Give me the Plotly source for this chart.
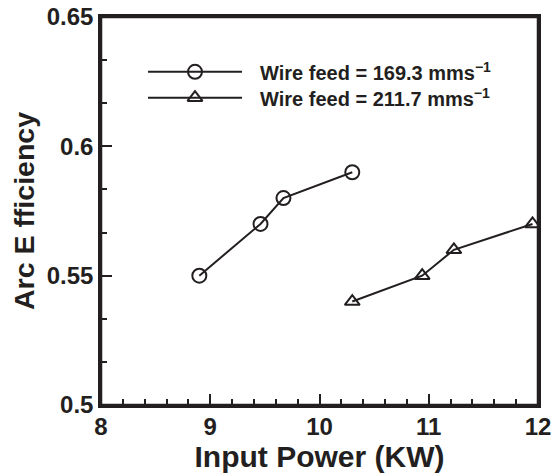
import plotly.graph_objects as go

# Data
feed_169_power = [8.9, 9.46, 9.67, 10.3]
feed_169_eff = [0.55, 0.57, 0.58, 0.59]
feed_212_power = [10.3, 10.94, 11.23, 11.95]
feed_212_eff = [0.54, 0.55, 0.56, 0.57]
series_names = ["Wire feed = 169.3 mms<sup>\u22121</sup>", "Wire feed = 211.7 mms<sup>\u22121</sup>"]
x_ticks = [8, 9, 10, 11, 12]
y_ticks = [0.5, 0.55, 0.6, 0.65]
y_tick_text = ["0.5", "0.55", "0.6", "0.65"]

INK = "#231f20"
FONT = "Liberation Sans, Arial, sans-serif"

fig = go.Figure()
fig.add_trace(go.Scatter(
    x=feed_169_power, y=feed_169_eff, mode="lines+markers",
    line=dict(color=INK, width=2),
    marker=dict(symbol="circle-open", size=14, color=INK, line=dict(width=2)),
    showlegend=False))
fig.add_trace(go.Scatter(
    x=feed_212_power, y=feed_212_eff, mode="lines+markers",
    line=dict(color=INK, width=2),
    marker=dict(symbol="triangle-up-open", size=13, color=INK, line=dict(width=2)),
    showlegend=False))

# Custom legend drawn on an overlay axis (0..1 in plot area)
leg_x0, leg_x1, leg_xm, leg_tx = 0.1076, 0.3227, 0.2151, 0.3593
leg_rows = [0.8586, 0.7920]
symbols = ["circle-open", "triangle-up-open"]
sizes = [14, 13]
for i in range(2):
    yy = leg_rows[i]
    fig.add_trace(go.Scatter(
        x=[leg_x0, leg_x1], y=[yy, yy], mode="lines", xaxis="x2", yaxis="y2",
        line=dict(color=INK, width=2), showlegend=False, hoverinfo="skip"))
    fig.add_trace(go.Scatter(
        x=[leg_xm], y=[yy], mode="markers", xaxis="x2", yaxis="y2",
        marker=dict(symbol=symbols[i], size=sizes[i], color=INK, line=dict(width=2)),
        showlegend=False, hoverinfo="skip"))
    fig.add_annotation(x=leg_tx, y=yy, xref="x2", yref="y2", text="<b>" + series_names[i] + "</b>",
                       showarrow=False, xanchor="left", yanchor="middle",
                       font=dict(family=FONT, size=20, color=INK))

# Frame around the plot area
fig.add_shape(type="rect", xref="paper", yref="paper", x0=0, x1=1, y0=0, y1=1,
              line=dict(color=INK, width=2.5), fillcolor="rgba(0,0,0,0)", layer="above")

fig.update_layout(
    width=552, height=468,
    margin=dict(l=93, r=22, t=9, b=71, autoexpand=False),
    paper_bgcolor="white", plot_bgcolor="white",
    font=dict(family=FONT, color=INK),
    xaxis=dict(
        range=[8, 12], tickvals=x_ticks, ticktext=[str(v) for v in x_ticks],
        ticks="inside", ticklen=11, tickwidth=2, tickcolor=INK,
        showline=True, linecolor=INK, linewidth=2.5, mirror=True,
        showgrid=False, zeroline=False, ticklabelstandoff=-2,
        ticklabeloverflow="allow",
        tickfont=dict(family=FONT, size=24, color=INK, weight="bold"),
        minor=dict(dtick=0.2, tick0=8, ticks="inside", ticklen=6, tickwidth=1.5, tickcolor=INK, showgrid=False),
        title=dict(text="<b>Input Power (KW)</b>", font=dict(family=FONT, size=30, color=INK), standoff=8),
    ),
    yaxis=dict(
        range=[0.5, 0.65002], tickvals=y_ticks, ticktext=y_tick_text,
        ticks="inside", ticklen=11, tickwidth=2, tickcolor=INK,
        showline=True, linecolor=INK, linewidth=2.5, mirror=True,
        showgrid=False, zeroline=False, ticklabeloverflow="allow",
        tickfont=dict(family=FONT, size=24, color=INK, weight="bold"),
        minor=dict(dtick=0.05 / 3, tick0=0.5, ticks="inside", ticklen=6, tickwidth=1.5, tickcolor=INK, showgrid=False),
        title=dict(text="<b>Arc E fficiency</b>", font=dict(family=FONT, size=28.5, color=INK), standoff=5),
    ),
    xaxis2=dict(range=[0, 1], overlaying="x", visible=False, fixedrange=True),
    yaxis2=dict(range=[0, 1], overlaying="y", visible=False, fixedrange=True),
)

fig.write_html("out.html")
